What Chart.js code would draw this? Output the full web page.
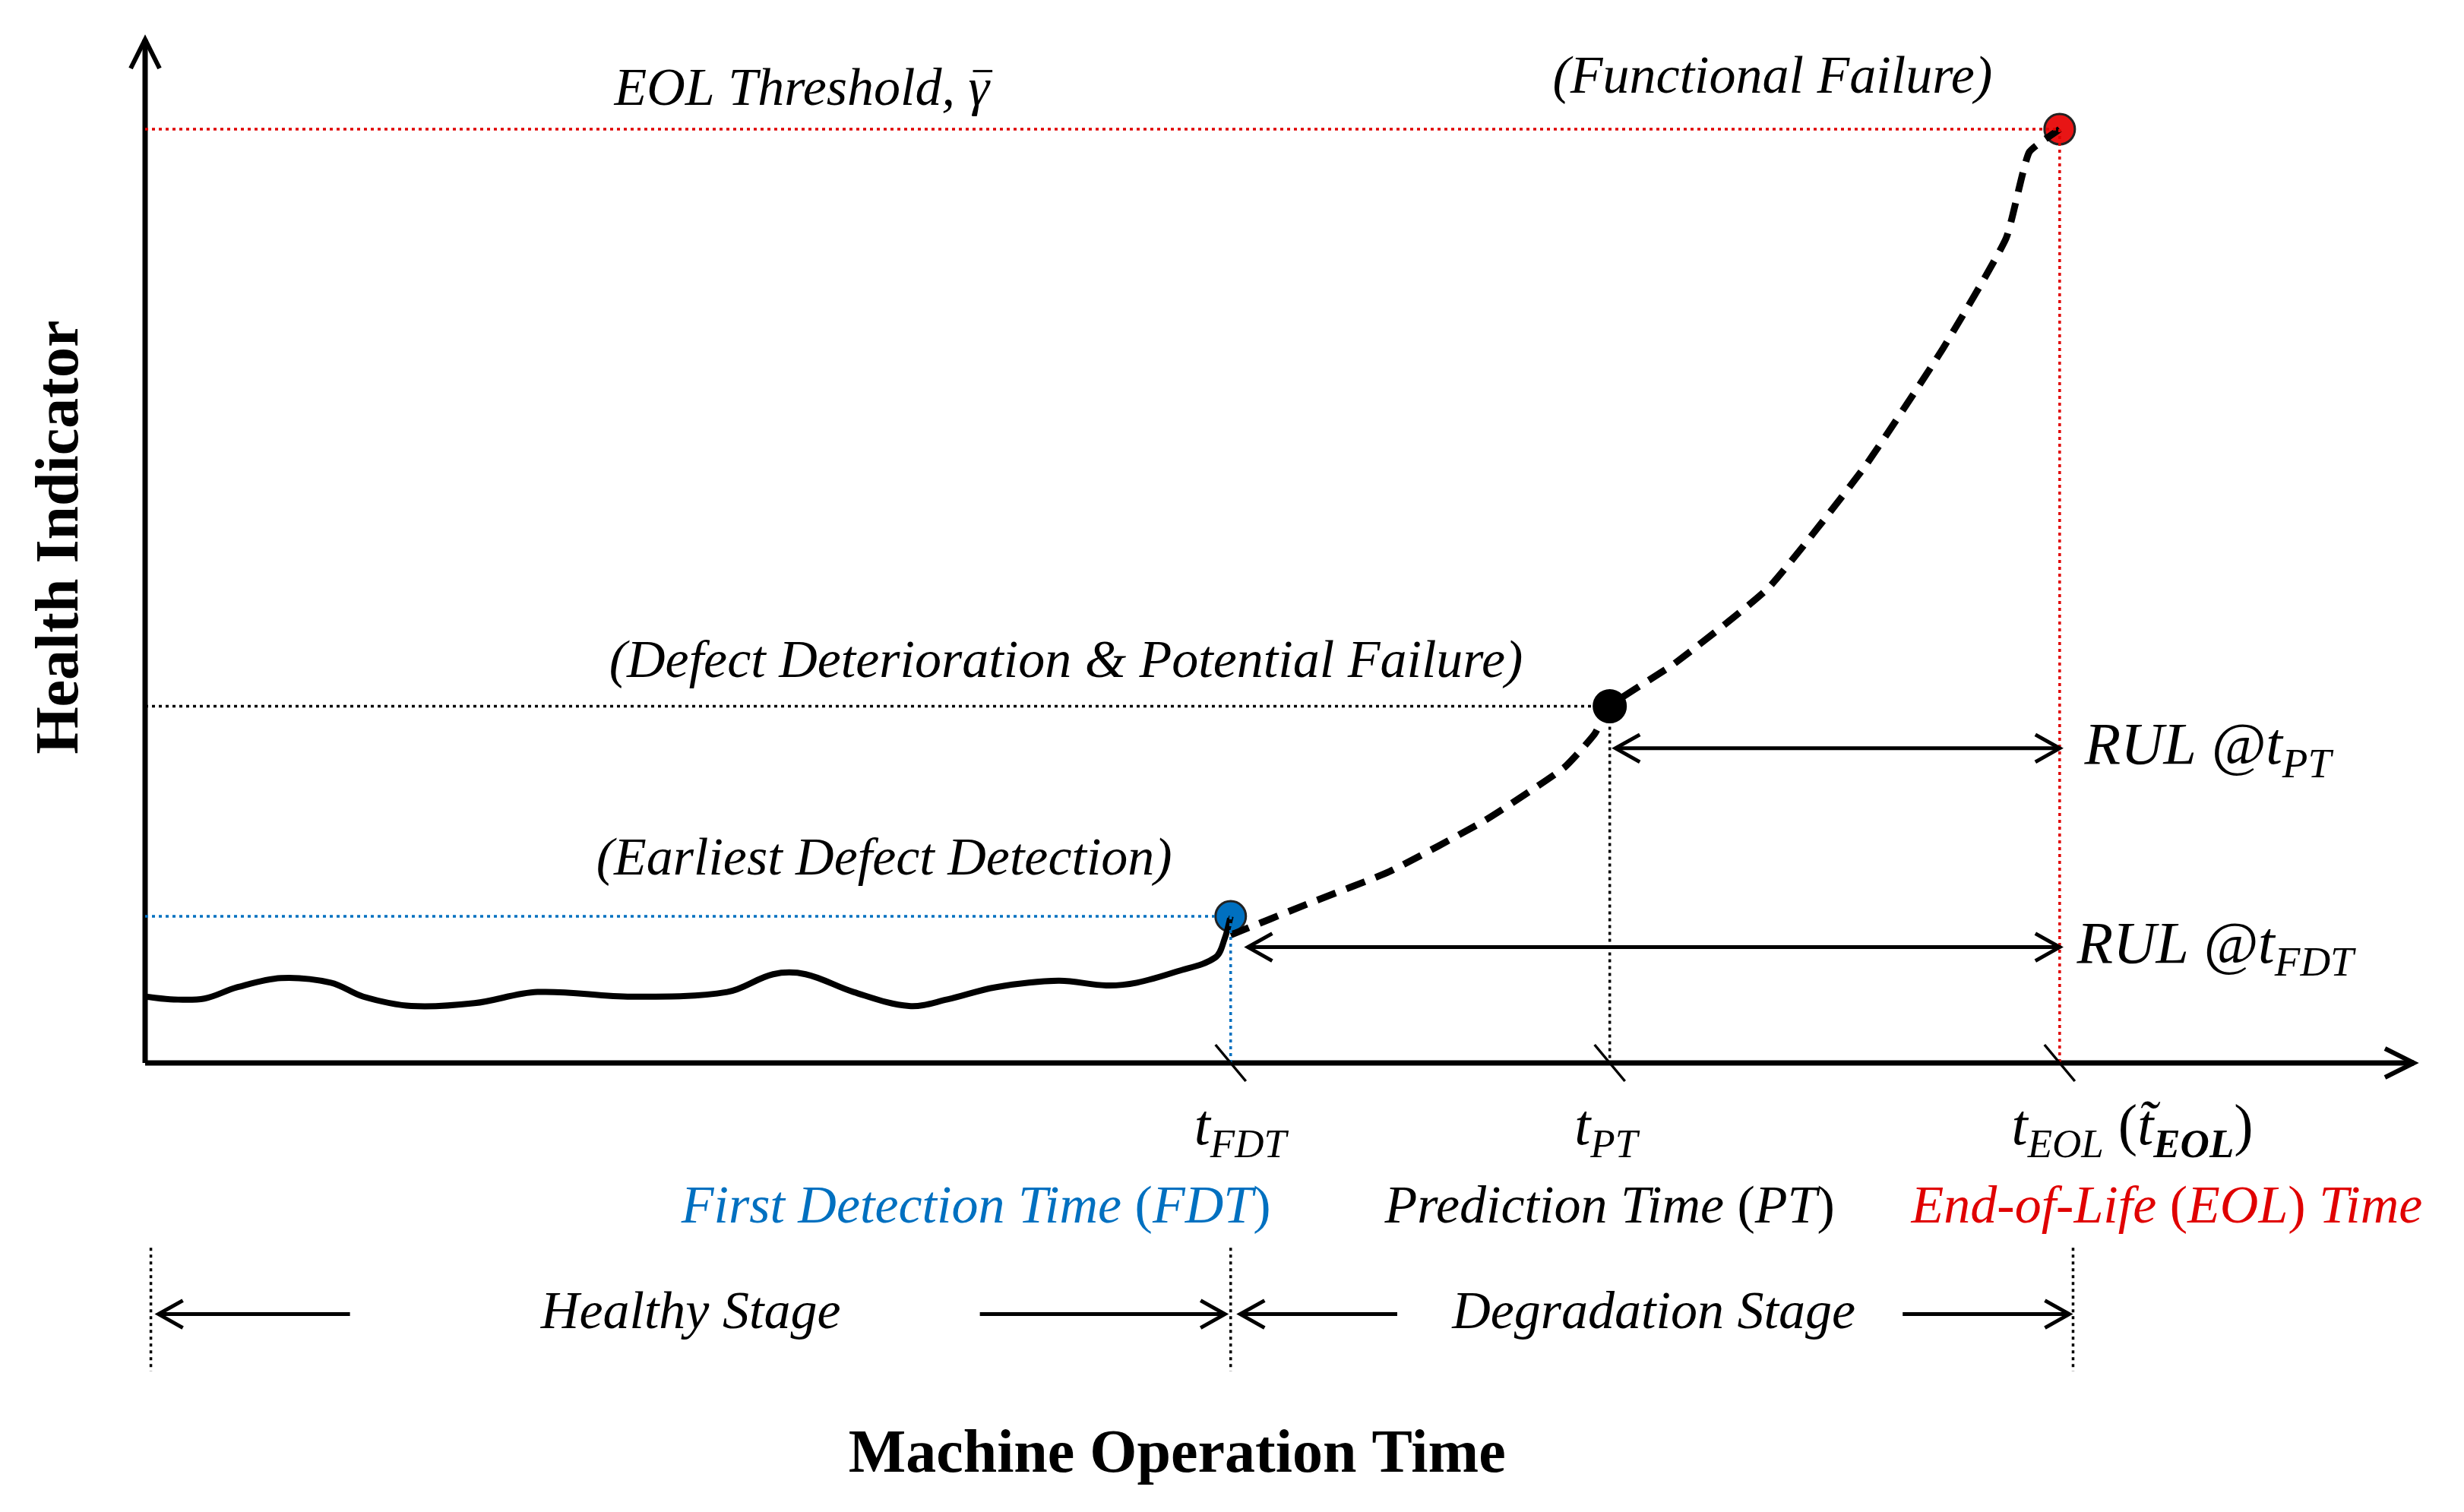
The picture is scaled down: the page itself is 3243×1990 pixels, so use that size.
<!DOCTYPE html>
<html>
<head>
<meta charset="utf-8">
<script src="https://cdn.jsdelivr.net/npm/chart.js@4.4.1/dist/chart.umd.min.js"></script>
<style>
  html, body { margin: 0; padding: 0; background: #fff; }
  #wrap { width: 3243px; height: 1990px; }
</style>
</head>
<body>
<div id="wrap"><canvas id="chart"></canvas></div>
<script>
// machine operation time (relative, EOL = 100) and health indicator (EOL threshold = 100)
var healthyX = [0, 1.5, 3.1, 4.8, 7.1, 9.7, 11.4, 13.9, 17.2, 20.5, 25.4, 30.4, 32.8, 34.5, 37.0, 39.9, 41.9, 44.4, 47.7, 50.2, 51.8, 53.9, 55.9, 56.4, 56.7];
var healthyY = [7.1, 6.8, 6.9, 8.1, 9.1, 8.6, 7.1, 6.1, 6.4, 7.6, 7.1, 7.6, 9.5, 9.5, 7.6, 6.1, 6.8, 8.1, 8.8, 8.3, 8.6, 9.8, 11.3, 13.4, 15.7];
var degradX = [56.7, 60.8, 65.0, 70.0, 74.1, 75.7, 76.5, 79.9, 84.8, 89.8, 93.9, 97.2, 98.4, 100];
var degradY = [13.7, 17.1, 20.5, 26.0, 31.6, 35.2, 38.2, 42.8, 50.9, 63.8, 76.5, 88.3, 97.5, 100];
var tFDT = 56.7, tPT = 76.5, tEOL = 100;
var hiFDT = 15.7, hiPT = 38.2, hiEOL = 100;

var BLUE = '#0070C0', RED = '#E00000';
var FONT = '"Liberation Serif", "DejaVu Serif", serif';

function pts(xs, ys) { return xs.map(function (x, i) { return { x: x, y: ys[i] }; }); }

function rich(ctx, parts, x, y, align, size) {
  size = size || 70;
  var subSize = Math.round(size * 0.7);
  function font(p) { return (p.upright ? '' : 'italic ') + (p.bold ? 'bold ' : '') + (p.sub ? subSize : size) + 'px ' + FONT; }
  var w = 0;
  parts.forEach(function (p) { ctx.font = font(p); w += ctx.measureText(p.t).width; });
  var cx = align === 'center' ? x - w / 2 : x;
  ctx.textAlign = 'left'; ctx.textBaseline = 'middle';
  var pos = [];
  parts.forEach(function (p) {
    ctx.font = font(p);
    ctx.fillStyle = p.color || '#000';
    ctx.fillText(p.t, cx, y + (p.sub ? size * 0.3 : 0));
    var pw = ctx.measureText(p.t).width;
    pos.push([cx, pw]);
    cx += pw;
  });
  return pos;
}

function arrowHead(ctx, x, y, dir) {
  ctx.beginPath();
  ctx.moveTo(x - dir * 32, y - 18);
  ctx.lineTo(x, y);
  ctx.lineTo(x - dir * 32, y + 18);
  ctx.stroke();
}

var annotations = {
  id: 'annotations',
  afterDatasetsDraw: function (chart) {
    var ctx = chart.ctx, xs = chart.scales.x, ys = chart.scales.y;
    var X = function (v) { return xs.getPixelForValue(v); };
    var Y = function (v) { return ys.getPixelForValue(v); };
    ctx.save();
    ctx.lineCap = 'butt';

    // axes with arrows
    ctx.strokeStyle = '#000'; ctx.lineWidth = 7;
    ctx.beginPath(); ctx.moveTo(X(0), Y(0)); ctx.lineTo(X(xs.max), Y(0)); ctx.stroke();
    ctx.beginPath(); ctx.moveTo(X(0), Y(0)); ctx.lineTo(X(0), Y(ys.max)); ctx.stroke();
    ctx.lineWidth = 6;
    ctx.beginPath(); ctx.moveTo(X(xs.max) - 38, Y(0) - 19); ctx.lineTo(X(xs.max), Y(0)); ctx.lineTo(X(xs.max) - 38, Y(0) + 19); ctx.stroke();
    ctx.beginPath(); ctx.moveTo(X(0) - 19, Y(ys.max) + 38); ctx.lineTo(X(0), Y(ys.max)); ctx.lineTo(X(0) + 19, Y(ys.max) + 38); ctx.stroke();

    // reference dotted lines
    ctx.lineWidth = 3.5; ctx.setLineDash([4, 5]);
    [[hiEOL, tEOL, RED], [hiPT, tPT, '#000'], [hiFDT, tFDT, BLUE]].forEach(function (r) {
      ctx.strokeStyle = r[2];
      ctx.beginPath(); ctx.moveTo(X(0), Y(r[0])); ctx.lineTo(X(r[1]), Y(r[0])); ctx.stroke();
      ctx.beginPath(); ctx.moveTo(X(r[1]), Y(r[0])); ctx.lineTo(X(r[1]), Y(0)); ctx.stroke();
    });
    // stage separators
    ctx.strokeStyle = '#000';
    [0.3, tFDT, 100.7].forEach(function (v) {
      ctx.beginPath(); ctx.moveTo(X(v), Y(-19.8)); ctx.lineTo(X(v), Y(-33)); ctx.stroke();
    });
    ctx.setLineDash([]);

    // tick slashes
    ctx.lineWidth = 3.5;
    [tFDT, tPT, tEOL].forEach(function (v) {
      ctx.beginPath(); ctx.moveTo(X(v) - 20, Y(0) - 24); ctx.lineTo(X(v) + 20, Y(0) + 24); ctx.stroke();
    });

    // RUL arrows and stage arrows
    ctx.lineWidth = 5;
    function dbl(a, b, y) {
      ctx.beginPath(); ctx.moveTo(X(a), Y(y)); ctx.lineTo(X(b), Y(y)); ctx.stroke();
      arrowHead(ctx, X(a), Y(y), -1); arrowHead(ctx, X(b), Y(y), 1);
    }
    dbl(tPT + 0.3, tEOL, 33.7);
    dbl(tFDT + 0.9, tEOL, 12.4);
    function single(a, b, y) {
      ctx.beginPath(); ctx.moveTo(X(a), Y(y)); ctx.lineTo(X(b), Y(y)); ctx.stroke();
      arrowHead(ctx, X(b), Y(y), b > a ? 1 : -1);
    }
    single(10.7, 0.7, -26.9); single(43.6, 56.4, -26.9);
    single(65.4, 57.2, -26.9); single(91.8, 100.5, -26.9);

    // texts
    var g = rich(ctx, [{ t: 'EOL Threshold, ' }, { t: '\u03B3' }], X(34.3), Y(104.1), 'center');
    ctx.lineWidth = 3; ctx.strokeStyle = '#000';
    ctx.beginPath(); ctx.moveTo(g[1][0] + 6, Y(104.1) - 26); ctx.lineTo(g[1][0] + g[1][1] + 4, Y(104.1) - 26); ctx.stroke();
    rich(ctx, [{ t: '(Functional Failure)' }], X(85), Y(105.4), 'center');
    rich(ctx, [{ t: '(Defect Deterioration & Potential Failure)' }], X(48.1), Y(42.8), 'center');
    rich(ctx, [{ t: '(Earliest Defect Detection)' }], X(38.6), Y(21.7), 'center');
    rich(ctx, [{ t: 'RUL @' }, { t: 't' }, { t: 'PT', sub: true }], X(101.3), Y(33.7), 'left', 78);
    rich(ctx, [{ t: 'RUL @' }, { t: 't' }, { t: 'FDT', sub: true }], X(100.9), Y(12.4), 'left', 78);
    rich(ctx, [{ t: 't' }, { t: 'FDT', sub: true }], X(57.2), Y(-7.1), 'center', 76);
    rich(ctx, [{ t: 't' }, { t: 'PT', sub: true }], X(76.3), Y(-7.1), 'center', 76);
    rich(ctx, [{ t: 't' }, { t: 'EOL', sub: true }, { t: ' (', upright: true }, { t: 't\u0303' }, { t: 'EOL', sub: true, bold: true }, { t: ')', upright: true }], X(103.8), Y(-7.1), 'center', 76);
    rich(ctx, [{ t: 'First Detection Time ', color: BLUE }, { t: '(', upright: true, color: BLUE }, { t: 'FDT', color: BLUE }, { t: ')', upright: true, color: BLUE }], X(43.4), Y(-15.6), 'center');
    rich(ctx, [{ t: 'Prediction Time ' }, { t: '(', upright: true }, { t: 'PT' }, { t: ')', upright: true }], X(76.5), Y(-15.6), 'center');
    rich(ctx, [{ t: 'End-of-Life ', color: RED }, { t: '(', upright: true, color: RED }, { t: 'EOL', color: RED }, { t: ') ', upright: true, color: RED }, { t: 'Time', color: RED }], X(105.6), Y(-15.6), 'center');
    rich(ctx, [{ t: 'Healthy Stage' }], X(28.5), Y(-26.9), 'center');
    rich(ctx, [{ t: 'Degradation Stage' }], X(78.8), Y(-26.9), 'center');

    ctx.fillStyle = '#000'; ctx.textAlign = 'center'; ctx.textBaseline = 'middle';
    ctx.font = 'bold 80px ' + FONT;
    ctx.fillText('Machine Operation Time', X(53.9), Y(-42.1));
    ctx.translate(X(0) - 110, Y(56.3));
    ctx.rotate(-Math.PI / 2);
    ctx.fillText('Health Indicator', 0, 0);
    ctx.restore();
  }
};

new Chart(document.getElementById('chart').getContext('2d'), {
  type: 'scatter',
  data: {
    datasets: [
      { data: pts(healthyX, healthyY), showLine: true, borderColor: '#000', borderWidth: 8, pointRadius: 0, tension: 0.35 },
      { data: pts(degradX, degradY), showLine: true, borderColor: '#000', borderWidth: 9, borderDash: [26, 15], pointRadius: 0, tension: 0.15 },
      { data: [{ x: tFDT, y: hiFDT }], pointRadius: 20, backgroundColor: BLUE, borderColor: '#222', borderWidth: 3 },
      { data: [{ x: tPT, y: hiPT }], pointRadius: 21, backgroundColor: '#000', borderColor: '#000', borderWidth: 3 },
      { data: [{ x: tEOL, y: hiEOL }], pointRadius: 20, backgroundColor: '#E81515', borderColor: '#222', borderWidth: 3 }
    ]
  },
  options: {
    responsive: true,
    maintainAspectRatio: false,
    animation: false,
    events: [],
    layout: { padding: { left: 191, right: 66, top: 52, bottom: 591 } },
    plugins: { legend: { display: false }, tooltip: { enabled: false } },
    scales: {
      x: { type: 'linear', min: 0, max: 118.5, display: false },
      y: { type: 'linear', min: 0, max: 109.6, display: false }
    }
  },
  plugins: [annotations]
});
</script>
</body>
</html>
